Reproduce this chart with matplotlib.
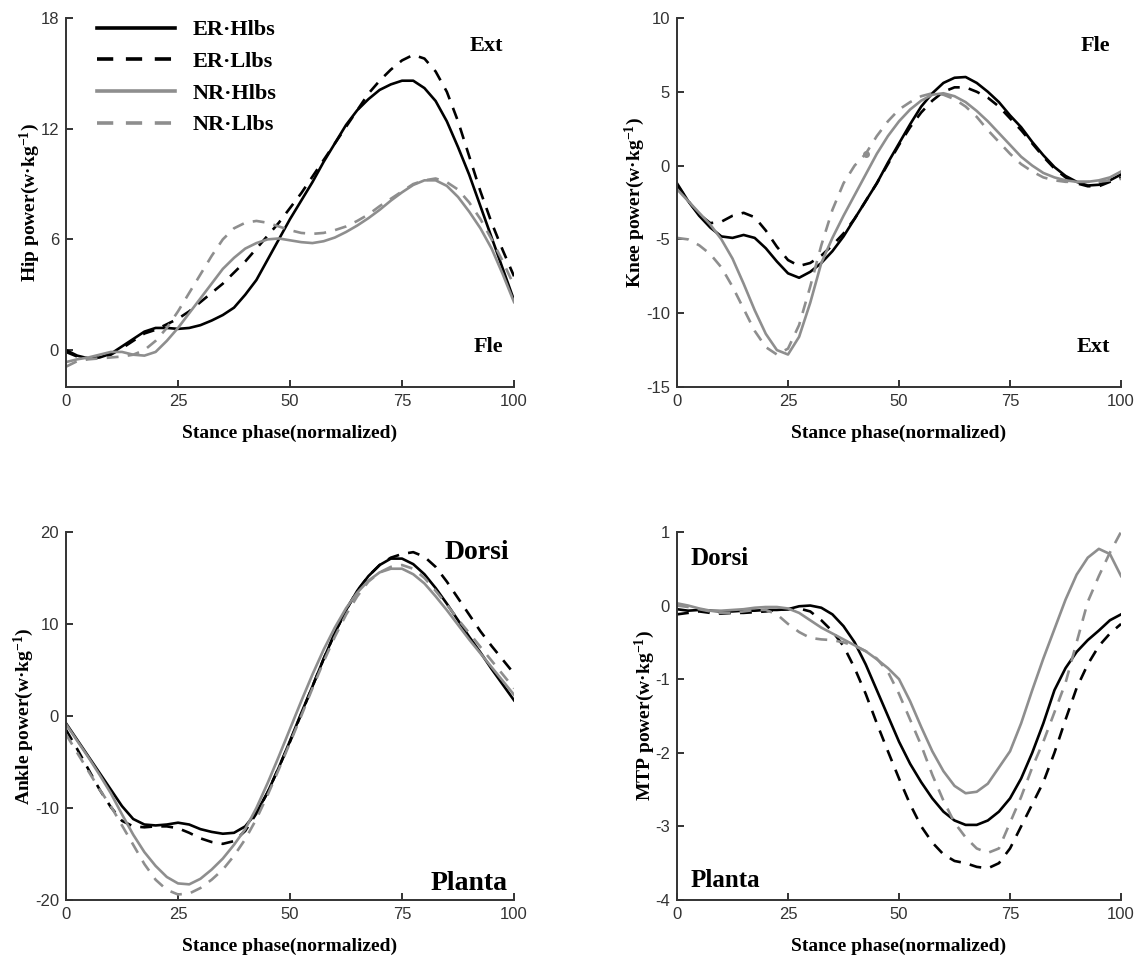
import numpy as np
import matplotlib
matplotlib.use("Agg")
import matplotlib.pyplot as plt

# ---------------- data ----------------
x = [0, 2.5, 5, 7.5, 10, 12.5, 15, 17.5, 20, 22.5, 25, 27.5, 30, 32.5, 35, 37.5, 40,
     42.5, 45, 47.5, 50, 52.5, 55, 57.5, 60, 62.5, 65, 67.5, 70, 72.5, 75, 77.5, 80,
     82.5, 85, 87.5, 90, 92.5, 95, 97.5, 100]

series_names = ["ER·Hlbs", "ER·Llbs", "NR·Hlbs", "NR·Llbs"]

hip_er_h = [0.0, -0.3, -0.45, -0.4, -0.2, 0.2, 0.6, 1.0, 1.2, 1.2, 1.15, 1.2, 1.35, 1.6, 1.9, 2.3, 3.0,
            3.8, 4.9, 6.0, 7.1, 8.1, 9.1, 10.2, 11.2, 12.2, 13.0, 13.6, 14.1, 14.4, 14.6, 14.6, 14.2,
            13.5, 12.4, 11.0, 9.5, 7.8, 6.1, 4.4, 2.7]
hip_er_l = [-0.1, -0.35, -0.45, -0.4, -0.25, 0.1, 0.5, 0.9, 1.1, 1.4, 1.7, 2.1, 2.6, 3.1, 3.6, 4.2, 4.8,
            5.5, 6.2, 6.9, 7.7, 8.5, 9.4, 10.3, 11.2, 12.1, 13.0, 13.9, 14.6, 15.2, 15.7, 16.0, 15.8,
            15.1, 14.0, 12.4, 10.5, 8.6, 6.9, 5.4, 4.0]
hip_nr_h = [-0.65, -0.5, -0.4, -0.25, -0.1, -0.1, -0.25, -0.3, -0.1, 0.5, 1.2, 2.0, 2.8, 3.6, 4.4, 5.0, 5.5,
            5.8, 6.0, 6.05, 5.95, 5.85, 5.8, 5.9, 6.1, 6.4, 6.75, 7.15, 7.6, 8.1, 8.55, 8.95, 9.2,
            9.2, 8.9, 8.3, 7.5, 6.6, 5.5, 4.1, 2.6]
hip_nr_l = [-0.9, -0.6, -0.5, -0.45, -0.4, -0.35, -0.25, 0.0, 0.5, 1.2, 2.1, 3.1, 4.1, 5.1, 6.0, 6.6, 6.9,
            7.0, 6.9, 6.7, 6.5, 6.35, 6.3, 6.35, 6.5, 6.7, 7.0, 7.35, 7.8, 8.2, 8.6, 9.0, 9.2,
            9.3, 9.1, 8.7, 8.0, 7.1, 6.0, 4.8, 3.5]

knee_er_h = [-1.2, -2.4, -3.4, -4.2, -4.8, -4.9, -4.7, -4.9, -5.6, -6.5, -7.3, -7.6, -7.2, -6.6, -5.8, -4.8, -3.6,
             -2.4, -1.2, 0.2, 1.5, 2.8, 4.0, 4.9, 5.6, 5.95, 6.0, 5.6, 5.0, 4.3, 3.4, 2.6, 1.6,
             0.7, -0.1, -0.7, -1.1, -1.35, -1.3, -1.0, -0.6]
knee_er_l = [-1.3, -2.4, -3.3, -3.9, -3.8, -3.4, -3.2, -3.5, -4.4, -5.5, -6.4, -6.8, -6.6, -6.1, -5.4, -4.6, -3.6,
             -2.4, -1.2, 0.1, 1.4, 2.6, 3.6, 4.4, 5.0, 5.3, 5.3, 5.0, 4.6, 4.0, 3.2, 2.4, 1.5,
             0.6, -0.2, -0.8, -1.2, -1.4, -1.4, -1.1, -0.8]
knee_nr_h = [-1.6, -2.4, -3.2, -4.0, -5.0, -6.3, -8.0, -9.8, -11.4, -12.5, -12.8, -11.6, -9.3, -6.6, -4.9, -3.4, -2.0,
             -0.6, 0.8, 2.0, 3.0, 3.8, 4.4, 4.8, 4.9, 4.7, 4.3, 3.7, 3.0, 2.2, 1.4, 0.6, 0.0,
             -0.5, -0.8, -1.0, -1.1, -1.1, -1.0, -0.8, -0.4]
knee_nr_l = [-4.9, -5.0, -5.4, -6.0, -6.9, -8.2, -9.7, -11.2, -12.3, -12.8, -12.4, -10.8, -8.2, -5.4, -3.0, -1.2, 0.0,
             0.8, 2.0, 3.0, 3.8, 4.3, 4.7, 4.9, 4.8, 4.5, 4.0, 3.3, 2.4, 1.6, 0.8, 0.1, -0.4,
             -0.8, -1.0, -1.1, -1.1, -1.1, -1.1, -1.0, -0.9]

ankle_er_h = [-0.8, -2.6, -4.4, -6.2, -8.0, -9.8, -11.2, -11.8, -11.9, -11.8, -11.6, -11.8, -12.3, -12.6, -12.8, -12.7, -12.0,
              -10.5, -8.3, -5.6, -2.7, 0.3, 3.2, 6.2, 9.0, 11.5, 13.6, 15.2, 16.4, 17.1, 17.1, 16.5, 15.4,
              13.9, 12.2, 10.4, 8.6, 6.9, 5.1, 3.4, 1.7]
ankle_er_l = [-1.5, -3.6, -5.8, -8.0, -9.9, -11.4, -12.0, -12.1, -12.0, -12.0, -12.2, -12.7, -13.3, -13.7, -13.9, -13.6, -12.5,
              -10.6, -8.3, -5.6, -2.8, 0.2, 3.2, 6.2, 9.0, 11.5, 13.6, 15.2, 16.4, 17.2, 17.6, 17.8, 17.3,
              16.2, 14.6, 12.8, 11.0, 9.2, 7.6, 6.1, 4.6]
ankle_nr_h = [-0.9, -2.7, -4.5, -6.4, -8.4, -10.7, -12.9, -14.8, -16.3, -17.5, -18.2, -18.3, -17.7, -16.7, -15.5, -14.0, -12.3,
              -10.0, -7.3, -4.4, -1.4, 1.6, 4.5, 7.2, 9.6, 11.7, 13.4, 14.7, 15.6, 16.0, 16.0, 15.4, 14.4,
              13.0, 11.5, 9.9, 8.3, 6.8, 5.3, 3.8, 2.3]
ankle_nr_l = [-2.0, -4.0, -6.0, -8.0, -9.8, -11.9, -14.0, -16.1, -17.8, -18.9, -19.4, -19.3, -18.7, -17.8, -16.7, -15.2, -13.4,
              -11.2, -8.6, -5.8, -2.9, 0.0, 3.0, 5.9, 8.6, 11.0, 13.0, 14.6, 15.6, 16.2, 16.4, 16.0, 15.0,
              13.6, 12.1, 10.5, 9.0, 7.5, 6.0, 4.5, 3.0]

mtp_er_h = [-0.05, -0.07, -0.06, -0.07, -0.08, -0.08, -0.07, -0.07, -0.06, -0.06, -0.05, -0.01, 0.0, -0.03, -0.12, -0.28, -0.5,
            -0.8, -1.15, -1.5, -1.85, -2.15, -2.4, -2.62, -2.8, -2.92, -2.98, -2.98, -2.92, -2.8, -2.62, -2.35, -2.0,
            -1.6, -1.15, -0.85, -0.63, -0.47, -0.34, -0.2, -0.12]
mtp_er_l = [-0.12, -0.1, -0.08, -0.1, -0.11, -0.1, -0.1, -0.09, -0.08, -0.06, -0.05, -0.04, -0.08, -0.2, -0.35, -0.55, -0.85,
            -1.2, -1.6, -1.98, -2.35, -2.7, -3.0, -3.22, -3.38, -3.47, -3.5, -3.55, -3.57, -3.5, -3.3, -3.0, -2.7,
            -2.4, -2.0, -1.55, -1.12, -0.8, -0.55, -0.38, -0.25]
mtp_nr_h = [0.03, 0.0, -0.04, -0.07, -0.07, -0.06, -0.05, -0.03, -0.02, -0.02, -0.04, -0.1, -0.2, -0.3, -0.38, -0.46, -0.54,
            -0.62, -0.73, -0.85, -1.0, -1.3, -1.65, -1.98, -2.25, -2.45, -2.55, -2.53, -2.42, -2.2, -1.98, -1.6, -1.15,
            -0.72, -0.32, 0.08, 0.42, 0.65, 0.77, 0.7, 0.4]
mtp_nr_l = [0.0, -0.02, -0.05, -0.08, -0.1, -0.1, -0.08, -0.06, -0.06, -0.12, -0.25, -0.36, -0.44, -0.46, -0.47, -0.5, -0.55,
            -0.62, -0.72, -0.9, -1.2, -1.55, -1.9, -2.3, -2.65, -2.95, -3.15, -3.3, -3.36, -3.3, -2.95, -2.6, -2.2,
            -1.85, -1.45, -1.05, -0.5, 0.05, 0.4, 0.72, 1.0]

knee_dot_x = [42.6]
knee_dot_y = [0.8]

panels = [
    dict(name="Hip", data=[hip_er_h, hip_er_l, hip_nr_h, hip_nr_l], ylim=(-2, 18), yticks=[0, 6, 12, 18],
         top="Ext", bottom="Fle"),
    dict(name="Knee", data=[knee_er_h, knee_er_l, knee_nr_h, knee_nr_l], ylim=(-15, 10), yticks=[-15, -10, -5, 0, 5, 10],
         top="Fle", bottom="Ext"),
    dict(name="Ankle", data=[ankle_er_h, ankle_er_l, ankle_nr_h, ankle_nr_l], ylim=(-20, 20), yticks=[-20, -10, 0, 10, 20],
         top="Dorsi", bottom="Planta"),
    dict(name="MTP", data=[mtp_er_h, mtp_er_l, mtp_nr_h, mtp_nr_l], ylim=(-4, 1), yticks=[-4, -3, -2, -1, 0, 1],
         top="Dorsi", bottom="Planta"),
]

# ---------------- style ----------------
plt.rcParams['axes.unicode_minus'] = False
plt.rcParams['mathtext.fontset'] = 'custom'
plt.rcParams['mathtext.rm'] = 'Liberation Serif:bold'
plt.rcParams['mathtext.bf'] = 'Liberation Serif:bold'
plt.rcParams['mathtext.it'] = 'Liberation Serif:bold'

GRAY = '#8e8e8e'
styles = [dict(color='black', ls='-'),
          dict(color='black', ls=(0, (4.5, 3.5))),
          dict(color=GRAY, ls='-'),
          dict(color=GRAY, ls=(0, (4.5, 3.5)))]

serif = dict(family='Liberation Serif', weight='bold')
tickfont = 'Liberation Sans'

fig = plt.figure(figsize=(11.38, 9.56), dpi=100)
positions = [
    [0.058, 0.5952, 0.3937, 0.386],
    [0.5949, 0.5952, 0.3902, 0.386],
    [0.058, 0.0586, 0.3937, 0.385],
    [0.5949, 0.0586, 0.3902, 0.385],
]

for i, (p, pos) in enumerate(zip(panels, positions)):
    ax = fig.add_axes(pos)
    for vals, st, nm in zip(p["data"], styles, series_names):
        ax.plot(x, vals, color=st['color'], linestyle=st['ls'], lw=1.9, label=nm)
    if p["name"] == "Knee":
        ax.plot(knee_dot_x, knee_dot_y, 'o', color=GRAY, ms=4)
    ax.set_xlim(0, 100)
    ax.set_ylim(*p["ylim"])
    ax.set_xticks([0, 25, 50, 75, 100])
    ax.set_yticks(p["yticks"])
    for s in ['top', 'right']:
        ax.spines[s].set_visible(False)
    for s in ['left', 'bottom']:
        ax.spines[s].set_linewidth(1.4)
        ax.spines[s].set_color('#333333')
    ax.tick_params(direction='in', length=5, width=1.4, color='#333333',
                   labelsize=12, pad=5, labelcolor='#333333')
    for lab in ax.get_xticklabels() + ax.get_yticklabels():
        lab.set_fontfamily(tickfont)
    ax.set_xlabel("Stance phase(normalized)", fontsize=14, labelpad=11, **serif)
    ax.set_ylabel(p["name"] + r" power(w·kg$^{-1}$)", fontsize=14, labelpad=-1, **serif)

    if p["name"] in ("Hip", "Knee"):
        ax.text(0.975, 0.924, p["top"], transform=ax.transAxes, ha='right', va='center', fontsize=16, **serif)
        ax.text(0.975, 0.108, p["bottom"], transform=ax.transAxes, ha='right', va='center', fontsize=16, **serif)
    elif p["name"] == "Ankle":
        ax.text(0.99, 0.943, p["top"], transform=ax.transAxes, ha='right', va='center', fontsize=20, **serif)
        ax.text(0.985, 0.046, p["bottom"], transform=ax.transAxes, ha='right', va='center', fontsize=20, **serif)
    else:
        ax.text(0.03, 0.927, p["top"], transform=ax.transAxes, ha='left', va='center', fontsize=18, **serif)
        ax.text(0.03, 0.052, p["bottom"], transform=ax.transAxes, ha='left', va='center', fontsize=18, **serif)

    if i == 0:
        leg = ax.legend(loc='upper left', bbox_to_anchor=(0.069, 0.995), frameon=False,
                        borderaxespad=0, borderpad=0, handlelength=3.5, handletextpad=0.8,
                        labelspacing=0.5, prop=dict(family='Liberation Serif', weight='bold', size=16))
        for h in leg.get_lines():
            h.set_linewidth(2.6)

fig.savefig("out.png", dpi=100)
